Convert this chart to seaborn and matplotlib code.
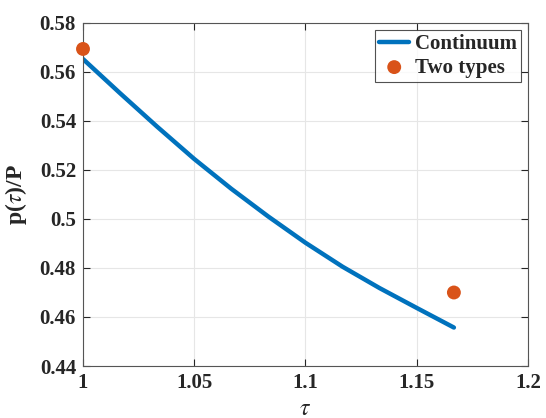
import matplotlib
matplotlib.use("Agg")
import matplotlib.pyplot as plt
import seaborn as sns

# continuum curve
tau = [1.0, 1.0167, 1.0333, 1.05, 1.0667, 1.0833, 1.1, 1.1167, 1.1333, 1.15, 1.1667]
p_cont = [0.5653, 0.5513, 0.5377, 0.5245, 0.5123, 0.5010, 0.4903, 0.4805, 0.4718, 0.4637, 0.4557]

# two-type points
tau_two = [1.0, 1.1667]
p_two = [0.5694, 0.4700]

sns.set_theme(style="whitegrid")
plt.rcParams["font.family"] = ["Liberation Serif", "DejaVu Serif"]
plt.rcParams["mathtext.fontset"] = "stix"

fig = plt.figure(figsize=(5.46, 4.18), dpi=100)
ax = fig.add_axes([0.152, 0.1244, 0.815, 0.8206])

sns.lineplot(x=tau, y=p_cont, ax=ax, color="#0072BD", linewidth=3.2, label="Continuum")
sns.scatterplot(x=tau_two, y=p_two, ax=ax, color="#D95319", s=100, edgecolor="none",
                label="Two types", zorder=5, clip_on=False)

ax.set_xlim(1, 1.2)
ax.set_ylim(0.44, 0.58)
ax.set_xticks([1, 1.05, 1.1, 1.15, 1.2])
ax.set_xticklabels(["1", "1.05", "1.1", "1.15", "1.2"])
ax.set_yticks([0.44, 0.46, 0.48, 0.5, 0.52, 0.54, 0.56, 0.58])
ax.set_yticklabels(["0.44", "0.46", "0.48", "0.5", "0.52", "0.54", "0.56", "0.58"])
ax.tick_params(direction="in", length=5, width=0.8, colors="#262626", labelsize=15,
               top=True, right=True, bottom=True, left=True, pad=5)
for lab in ax.get_xticklabels() + ax.get_yticklabels():
    lab.set_fontweight("bold")

ax.grid(True, color="#e6e6e6", linewidth=0.8)
for s in ax.spines.values():
    s.set_color("#555555")
    s.set_linewidth(0.8)
    s.set_visible(True)

ax.set_xlabel(r"$\tau$", fontsize=17, color="#262626", labelpad=4)
ax.set_ylabel(r"p($\tau$)/P", fontsize=17, fontweight="bold", color="#262626", labelpad=8)

leg = ax.legend(loc="upper right", fontsize=15, frameon=True, fancybox=False,
                borderpad=0.2, labelspacing=0.15, handlelength=1.45, handletextpad=0.25,
                borderaxespad=0.35)
leg.get_frame().set_edgecolor("#262626")
leg.get_frame().set_linewidth(0.8)
for t in leg.get_texts():
    t.set_fontweight("bold")

fig.savefig("out.png", dpi=100)
